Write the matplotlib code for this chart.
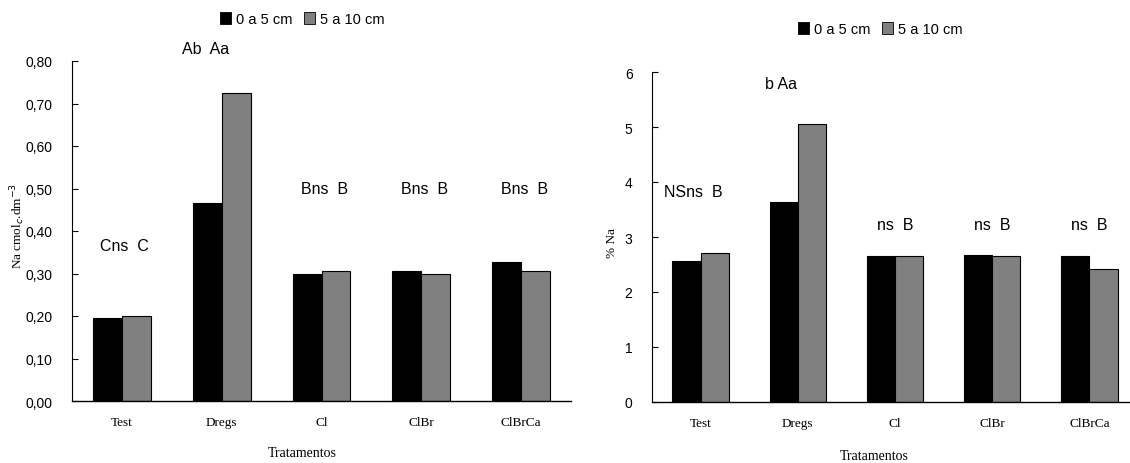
import matplotlib
matplotlib.use("Agg")
import matplotlib.pyplot as plt
import numpy as np
from matplotlib.patches import Patch

W, H = 1130, 464

tratamentos = ["Test", "Dregs", "Cl", "ClBr", "ClBrCa"]
legend_labels = ["0 a 5 cm", "5 a 10 cm"]

na_0_5 = [0.196, 0.465, 0.298, 0.305, 0.328]
na_5_10 = [0.201, 0.725, 0.307, 0.300, 0.305]
na_letters = ["Cns  C", "Ab  Aa", "Bns  B", "Bns  B", "Bns  B"]
na_letter_y = [0.365, 0.83, 0.50, 0.50, 0.50]
na_yticks = [0.0, 0.1, 0.2, 0.3, 0.4, 0.5, 0.6, 0.7, 0.8]

pna_0_5 = [2.56, 3.63, 2.65, 2.68, 2.66]
pna_5_10 = [2.71, 5.05, 2.65, 2.66, 2.42]
pna_letters = ["NSns  B", "b Aa", "ns  B", "ns  B", "ns  B"]
pna_letter_y = [3.82, 5.80, 3.22, 3.22, 3.22]
pna_yticks = [0, 1, 2, 3, 4, 5, 6]

colors = ["#000000", "#808080"]
sans = ["Liberation Sans Narrow", "Liberation Sans", "DejaVu Sans"]
serif = ["Liberation Serif", "DejaVu Serif"]

fig = plt.figure(figsize=(W / 100, H / 100), dpi=100)


def px_axes(x0, y_top, x1, y_bot):
    return fig.add_axes([x0 / W, 1 - y_bot / H, (x1 - x0) / W, (y_bot - y_top) / H])


def draw_panel(ax, v1, v2, letters, letter_y, letter_dx, yticks, yfmt, ymax):
    x = np.arange(len(tratamentos))
    bw = 0.29
    ax.bar(x - bw / 2, v1, bw, color=colors[0], edgecolor="black", linewidth=0.8)
    ax.bar(x + bw / 2, v2, bw, color=colors[1], edgecolor="black", linewidth=0.8)
    ax.set_xlim(-0.5, len(tratamentos) - 0.5)
    ax.set_ylim(0, ymax)
    ax.spines["top"].set_visible(False)
    ax.spines["right"].set_visible(False)
    ax.spines["left"].set_linewidth(0.8)
    ax.spines["bottom"].set_linewidth(1.0)
    ax.set_yticks(yticks)
    ax.set_yticklabels([yfmt(v) for v in yticks], family=sans, fontsize=10)
    ax.tick_params(axis="y", direction="in", length=4, width=0.8, pad=14)
    ax.set_xticks(x)
    ax.set_xticklabels(tratamentos, family=serif, fontsize=9.5)
    ax.tick_params(axis="x", length=0, pad=11)
    for i, (t, ty, dx) in enumerate(zip(letters, letter_y, letter_dx)):
        ax.text(i + dx, ty, t, ha="center", va="center", family=sans,
                fontsize=11.5, clip_on=False)


ax1 = px_axes(72, 62, 571, 402)
draw_panel(ax1, na_0_5, na_5_10, na_letters, na_letter_y,
           [0.03, -0.16, 0.03, 0.03, 0.03], na_yticks,
           lambda v: f"{v:.2f}".replace(".", ","), 0.8)

ax2 = px_axes(652, 73, 1138, 403)
draw_panel(ax2, pna_0_5, pna_5_10, pna_letters, pna_letter_y,
           [-0.07, -0.17, 0.0, 0.0, 0.0], pna_yticks,
           lambda v: f"{v:d}", 6)

# axis labels
fig.text(18 / W, 1 - 226 / H, "Na cmol$_c$.dm$^{-3}$", rotation=90,
         ha="center", va="center", family=serif, fontsize=9.5)
fig.text(612 / W, 1 - 243 / H, "% Na", rotation=90,
         ha="center", va="center", family=serif, fontsize=9.5)
fig.text(302 / W, 1 - 454 / H, "Tratamentos", ha="center", va="center",
         family=serif, fontsize=10)
fig.text(874 / W, 1 - 457 / H, "Tratamentos", ha="center", va="center",
         family=serif, fontsize=10)

# legends
handles = [Patch(facecolor=c, edgecolor="black", linewidth=0.6) for c in colors]
for cx, cy in [(302, 20), (880, 30)]:
    fig.legend(handles, legend_labels, loc="center", ncol=2,
               bbox_to_anchor=(cx / W, 1 - cy / H), frameon=False,
               prop={"family": sans, "size": 10.5}, handlelength=0.8,
               handleheight=0.8, handletextpad=0.3, columnspacing=0.8)

fig.savefig("out.png", dpi=100)
